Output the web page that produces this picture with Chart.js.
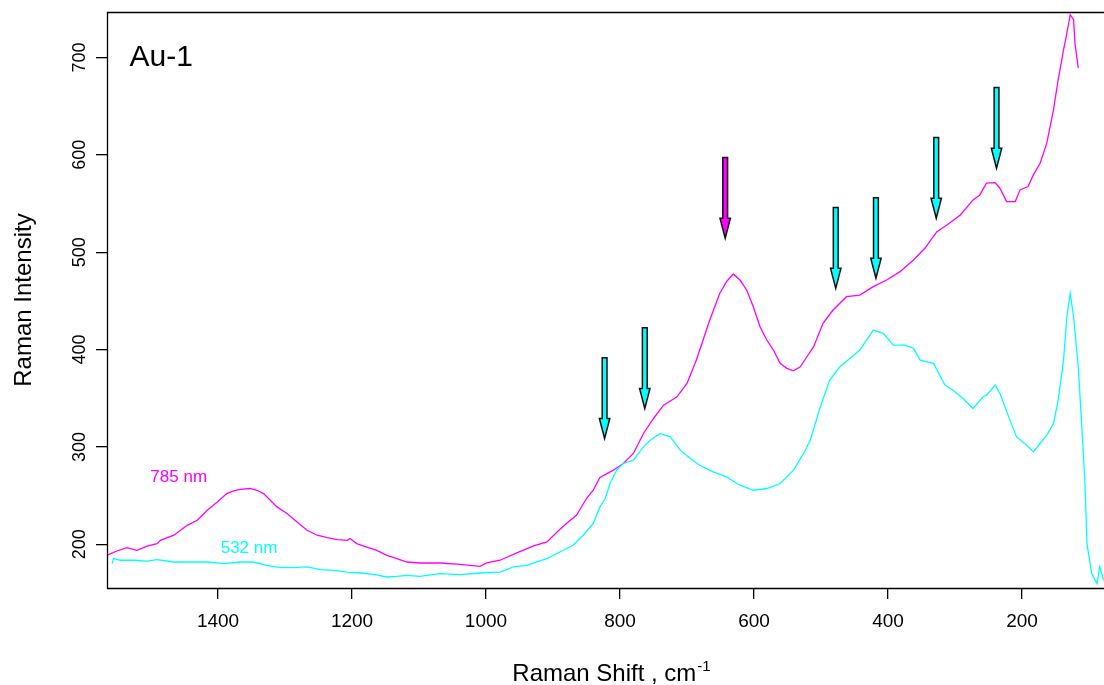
<!DOCTYPE html>
<html>
<head>
    <title>Au-1 Raman Spectra</title>
    <script src="https://cdn.jsdelivr.net/npm/chart.js"></script>
    <style>
        body {
            margin: 0;
            background-color: #ffffff;
        }

        #spectrum {
            display: block;
        }
    </style>
</head>
<body>

    <canvas id="spectrum" width="1104" height="685"></canvas>

    <script>
        // 785 nm excitation: Raman shift (cm-1) and intensity
        const shift785 = [1566, 1551, 1536, 1521, 1506, 1491, 1486, 1466, 1446, 1431,
            1416, 1401, 1387, 1377, 1367, 1352, 1342, 1332, 1322, 1312,
            1297, 1282, 1267, 1252, 1237, 1222, 1207, 1203, 1193, 1178,
            1163, 1148, 1133, 1118, 1099, 1069, 1039, 1009, 999, 979,
            954, 929, 909, 894, 880, 865, 850, 840, 830, 810,
            795, 780, 765, 750, 735, 715, 700, 686, 676, 666,
            651, 641, 631, 621, 611, 601, 591, 581, 571, 561,
            551, 541, 531, 521, 511, 497, 482, 462, 442, 422,
            402, 382, 362, 345, 327, 312, 292, 273, 263, 253,
            240, 233, 223, 210, 203, 191, 183, 173, 163, 153,
            146, 138, 133, 128, 123, 121, 116];
        const int785 = [188.7, 193.1, 196.6, 193.8, 198.0, 200.7, 204.1, 209.3, 219.5, 224.7,
            235.0, 243.5, 252.1, 254.8, 256.3, 257.3, 255.5, 252.1, 245.2, 238.4,
            231.6, 222.9, 214.4, 209.3, 206.9, 204.8, 204.1, 205.9, 200.7, 197.2,
            193.8, 188.7, 185.3, 181.8, 180.8, 180.8, 179.4, 177.4, 180.8, 183.6,
            191.1, 198.3, 202.4, 212.7, 221.3, 229.8, 247.0, 255.5, 268.6, 276.1,
            283.0, 293.3, 313.8, 329.2, 342.9, 351.5, 365.2, 389.2, 409.8, 430.3,
            457.8, 469.7, 477.6, 471.4, 461.2, 444.0, 423.4, 409.8, 399.5, 385.8,
            380.7, 378.2, 382.3, 392.6, 402.9, 426.9, 440.6, 454.3, 456.0, 464.6,
            471.4, 480.0, 492.0, 504.0, 521.1, 528.0, 538.3, 553.7, 558.8, 570.9,
            571.5, 565.7, 552.0, 552.0, 564.0, 567.4, 579.4, 591.4, 612.0, 646.2,
            677.1, 707.9, 725.1, 743.9, 738.8, 714.8, 689.1];

        // 532 nm excitation
        const shift532 = [1558, 1556, 1546, 1526, 1506, 1491, 1466, 1441, 1416, 1391,
            1367, 1347, 1327, 1307, 1287, 1267, 1247, 1227, 1207, 1188,
            1168, 1148, 1133, 1118, 1099, 1069, 1039, 1009, 979, 959,
            939, 929, 909, 890, 870, 855, 840, 830, 822, 815,
            805, 795, 780, 765, 755, 740, 725, 710, 695, 681,
            661, 641, 621, 601, 581, 561, 541, 526, 516, 501,
            487, 472, 457, 442, 422, 407, 392, 375, 362, 352,
            332, 315, 303, 288, 273, 258, 253, 240, 233, 218,
            208, 193, 183, 173, 163, 153, 146, 138, 133, 128,
            123, 116, 111, 106, 103, 96, 88, 84, 78];
        const int532 = [180.2, 185.3, 183.6, 183.6, 182.8, 184.3, 181.8, 181.8, 181.8, 180.2,
            181.8, 181.8, 178.4, 176.1, 176.1, 176.7, 174.0, 173.3, 171.5, 170.5,
            169.2, 166.4, 167.1, 168.1, 167.1, 169.9, 168.9, 170.5, 171.5, 176.7,
            178.4, 180.8, 185.3, 192.1, 199.0, 209.3, 221.3, 238.4, 247.0, 262.4,
            276.1, 283.0, 286.4, 300.1, 306.9, 313.8, 310.3, 296.7, 288.1, 281.2,
            274.3, 269.2, 260.7, 255.5, 257.3, 262.4, 276.1, 293.3, 306.9, 341.2,
            368.6, 382.3, 390.9, 399.5, 420.0, 416.6, 404.6, 404.6, 401.2, 389.2,
            385.8, 363.5, 358.3, 349.8, 339.5, 351.5, 353.2, 363.5, 355.0, 327.5,
            310.3, 301.8, 294.9, 303.5, 312.1, 324.1, 348.1, 389.2, 433.7, 457.8,
            433.7, 382.3, 324.1, 262.4, 200.7, 169.9, 159.6, 176.7, 163.0];

        // band markers: shift, arrow tail and arrow tip (intensity units)
        const bandShift = [823, 763, 643, 478, 418, 328, 238];
        const bandTail = [391.6, 422.4, 597.2, 545.8, 556.0, 617.7, 669.2];
        const bandTip = [308.7, 339.5, 514.3, 462.9, 473.2, 534.9, 586.3];
        const bandLaser = ['532', '532', '785', '532', '532', '532', '532'];

        const xTickValues = [1400, 1200, 1000, 800, 600, 400, 200];
        const yTickValues = [200, 300, 400, 500, 600, 700];

        const FONT = '"Liberation Sans", Arial, sans-serif';
        const laserColor = { '785': '#ff00ff', '532': '#00ffff' };

        function toPoints(xs, ys) {
            return xs.map((v, i) => ({ x: v, y: ys[i] }));
        }

        // frame, tick labels, titles, series names and band arrows
        const annotations = {
            id: 'annotations',
            afterDatasetsDraw(chart) {
                const { ctx, chartArea: a, scales: { x, y } } = chart;
                ctx.save();

                // plot box (right edge runs off the canvas)
                ctx.strokeStyle = '#000';
                ctx.lineWidth = 1.3;
                ctx.beginPath();
                ctx.moveTo(a.right + 5, a.top + 0.5);
                ctx.lineTo(a.left + 0.5, a.top + 0.5);
                ctx.lineTo(a.left + 0.5, a.bottom + 0.5);
                ctx.lineTo(a.right + 5, a.bottom + 0.5);
                ctx.stroke();

                ctx.fillStyle = '#000';
                ctx.font = '19px ' + FONT;
                ctx.textAlign = 'center';
                ctx.textBaseline = 'alphabetic';
                xTickValues.forEach(v => {
                    ctx.fillText(String(v), x.getPixelForValue(v), a.bottom + 39);
                });

                ctx.font = '18px ' + FONT;
                yTickValues.forEach(v => {
                    ctx.save();
                    ctx.translate(a.left - 22, y.getPixelForValue(v));
                    ctx.rotate(-Math.PI / 2);
                    ctx.fillText(String(v), 0, 0);
                    ctx.restore();
                });

                // axis titles
                ctx.font = '24px ' + FONT;
                ctx.save();
                ctx.translate(31, (a.top + a.bottom) / 2);
                ctx.rotate(-Math.PI / 2);
                ctx.fillText('Raman Intensity', 0, 0);
                ctx.restore();

                const main = 'Raman Shift , cm';
                ctx.font = '24px ' + FONT;
                const wMain = ctx.measureText(main).width;
                ctx.font = '15px ' + FONT;
                const wSup = ctx.measureText('-1').width;
                const startX = 611 - (wMain + wSup) / 2;
                ctx.textAlign = 'left';
                ctx.font = '24px ' + FONT;
                ctx.fillText(main, startX, 681);
                ctx.font = '15px ' + FONT;
                ctx.fillText('-1', startX + wMain + 1, 671);

                // sample name and series names
                ctx.font = '30px ' + FONT;
                ctx.fillText('Au-1', x.getPixelForValue(1532), y.getPixelForValue(691.5));
                ctx.font = '17px ' + FONT;
                ctx.fillStyle = laserColor['785'];
                ctx.fillText('785 nm', x.getPixelForValue(1501), y.getPixelForValue(264));
                ctx.fillStyle = laserColor['532'];
                ctx.fillText('532 nm', x.getPixelForValue(1396), y.getPixelForValue(191));

                // band arrows
                const headLen = 20, shaftHalf = 2.4, headHalf = 5.2;
                bandShift.forEach((b, i) => {
                    const px = x.getPixelForValue(b);
                    const top = y.getPixelForValue(bandTail[i]);
                    const tip = y.getPixelForValue(bandTip[i]);
                    ctx.beginPath();
                    ctx.moveTo(px - shaftHalf, top);
                    ctx.lineTo(px + shaftHalf, top);
                    ctx.lineTo(px + shaftHalf, tip - headLen);
                    ctx.lineTo(px + headHalf, tip - headLen);
                    ctx.lineTo(px, tip);
                    ctx.lineTo(px - headHalf, tip - headLen);
                    ctx.lineTo(px - shaftHalf, tip - headLen);
                    ctx.closePath();
                    ctx.fillStyle = laserColor[bandLaser[i]];
                    ctx.fill();
                    ctx.lineWidth = 1.5;
                    ctx.strokeStyle = '#111';
                    ctx.stroke();
                });

                ctx.restore();
            }
        };

        const ctx = document.getElementById('spectrum').getContext('2d');
        new Chart(ctx, {
            type: 'line',
            data: {
                datasets: [{
                    label: '532 nm',
                    data: toPoints(shift532, int532),
                    borderColor: laserColor['532'],
                    borderWidth: 1.3,
                    pointRadius: 0,
                    tension: 0
                }, {
                    label: '785 nm',
                    data: toPoints(shift785, int785),
                    borderColor: laserColor['785'],
                    borderWidth: 1.3,
                    pointRadius: 0,
                    tension: 0
                }]
            },
            options: {
                responsive: false,
                animation: false,
                devicePixelRatio: 1,
                layout: {
                    padding: { top: 12, right: 0, bottom: 0, left: 0 }
                },
                scales: {
                    x: {
                        type: 'linear',
                        reverse: true,
                        min: 77.6,
                        max: 1565.7,
                        afterFit: scale => { scale.height = 97; },
                        afterBuildTicks: scale => {
                            scale.ticks = xTickValues.map(v => ({ value: v }));
                        },
                        ticks: { display: false },
                        border: { display: false },
                        grid: {
                            drawOnChartArea: false,
                            drawTicks: true,
                            tickLength: 11,
                            color: '#000',
                            lineWidth: 1.3
                        }
                    },
                    y: {
                        type: 'linear',
                        min: 155.1,
                        max: 746.7,
                        afterFit: scale => { scale.width = 107; },
                        afterBuildTicks: scale => {
                            scale.ticks = yTickValues.map(v => ({ value: v }));
                        },
                        ticks: { display: false },
                        border: { display: false },
                        grid: {
                            drawOnChartArea: false,
                            drawTicks: true,
                            tickLength: 11,
                            color: '#000',
                            lineWidth: 1.3
                        }
                    }
                },
                plugins: {
                    legend: { display: false },
                    tooltip: { enabled: false }
                }
            },
            plugins: [annotations]
        });
    </script>
</body>
</html>
